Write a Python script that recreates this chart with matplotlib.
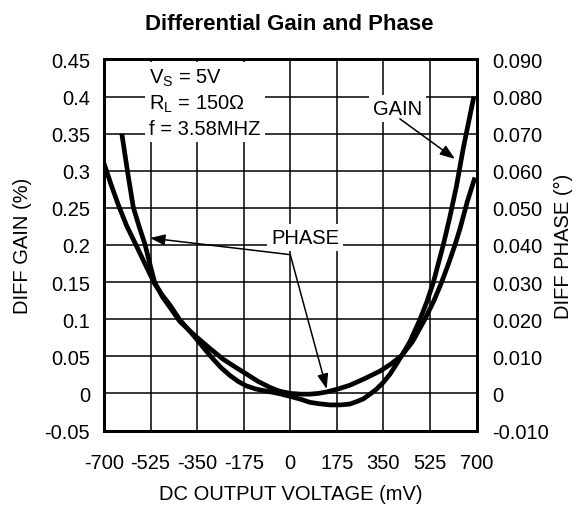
import matplotlib
matplotlib.use("Agg")
import matplotlib.pyplot as plt

plt.rcParams['font.family'] = ['Liberation Sans', 'DejaVu Sans']
plt.rcParams['mathtext.fontset'] = 'custom'
plt.rcParams['mathtext.rm'] = 'Liberation Sans'
plt.rcParams['mathtext.it'] = 'Liberation Sans'

# DC output voltage (mV) vs differential gain (%)
gain_mv = [-700, -672, -646, -615, -577, -545, -510, -480, -452, -415, -380, -352,
           -320, -289, -258, -226, -195, -164, -130, -89, -45, 0, 40, 74, 110,
           149, 190, 224, 250, 274, 300, 325, 350, 375, 400, 419, 450, 488, 515,
           538, 575, 600, 625, 650, 670, 690]
gain_pct = [0.310, 0.280, 0.254, 0.226, 0.198, 0.174, 0.148, 0.132, 0.119, 0.099,
            0.085, 0.073, 0.059, 0.046, 0.034, 0.024, 0.016, 0.010, 0.006, 0.003,
            0.000, -0.004, -0.008, -0.012, -0.014, -0.0155, -0.0155, -0.0143,
            -0.011, -0.0075, -0.001, 0.006, 0.015, 0.026, 0.040, 0.051, 0.070,
            0.100, 0.125, 0.150, 0.200, 0.238, 0.280, 0.330, 0.365, 0.400]

# DC output voltage (mV) vs differential phase (deg)
phase_mv = [-633, -612, -590, -568, -546, -528, -510, -480, -452, -415, -380, -352,
            -300, -252, -200, -164, -120, -76, -40, 0, 40, 74, 105, 137, 180, 224,
            280, 337, 380, 419, 460, 506, 540, 569, 595, 619, 638, 665, 694]
phase_deg = [0.0700, 0.0600, 0.0502, 0.0450, 0.0402, 0.0350, 0.0300, 0.0260, 0.0232,
             0.0194, 0.0170, 0.0152, 0.0120, 0.0092, 0.0068, 0.0052, 0.0032, 0.0016,
             0.0006, 0.0000, -0.0002, -0.0002, 0.0000, 0.0004, 0.0012, 0.0022,
             0.0040, 0.0060, 0.0080, 0.0102, 0.0140, 0.0200, 0.0250, 0.0300, 0.0350,
             0.0400, 0.0444, 0.0516, 0.0582]

x_ticks = [-700, -525, -350, -175, 0, 175, 350, 525, 700]
gain_ticks = [-0.05, 0, 0.05, 0.1, 0.15, 0.2, 0.25, 0.3, 0.35, 0.4, 0.45]
gain_labels = ['-0.05', '0', '0.05', '0.1', '0.15', '0.2', '0.25', '0.3', '0.35', '0.4', '0.45']
phase_ticks = [-0.01, 0, 0.01, 0.02, 0.03, 0.04, 0.05, 0.06, 0.07, 0.08, 0.09]
phase_labels = ['-0.010', '0', '0.010', '0.020', '0.030', '0.040', '0.050',
                '0.060', '0.070', '0.080', '0.090']

fs = 14.5
fig = plt.figure(figsize=(5.79, 5.10), dpi=100)
ax = fig.add_axes([0.1796, 0.1539, 0.6434, 0.7275])
ax2 = ax.twinx()

ax.set_xlim(-700, 700)
ax.set_ylim(-0.05, 0.45)
ax2.set_ylim(-0.01, 0.09)

ax.set_xticks(x_ticks)
ax.set_xticklabels([str(v) for v in x_ticks], fontsize=fs)
ax.set_yticks(gain_ticks)
ax.set_yticklabels(gain_labels, fontsize=fs)
ax2.set_yticks(phase_ticks)
ax2.set_yticklabels(phase_labels, fontsize=fs)
ax.tick_params(axis='x', length=0, pad=16)
ax.tick_params(axis='y', length=0, pad=10)
ax2.tick_params(axis='y', length=0, pad=11)

ax.grid(True, color='black', lw=1.1)
ax.set_axisbelow(True)
for a in (ax, ax2):
    for s in a.spines.values():
        s.set_linewidth(2.0)

ax.plot(gain_mv, gain_pct, color='black', lw=3.4, solid_joinstyle='round',
        solid_capstyle='butt', zorder=3)
ax2.plot(phase_mv, phase_deg, color='black', lw=3.4, solid_joinstyle='round',
         solid_capstyle='butt', zorder=3)

ax.set_xlabel('DC OUTPUT VOLTAGE (mV)', fontsize=fs, labelpad=9)
ax.set_ylabel('DIFF GAIN (%)', fontsize=fs, labelpad=9)
ax2.set_ylabel('DIFF PHASE (°)', fontsize=fs, labelpad=4)
fig.suptitle('Differential Gain and Phase', fontsize=16, fontweight='bold', x=0.5, y=0.972)

box = dict(boxstyle='square,pad=0.2', fc='white', ec='none')
ax.text(-530, 0.440, 'V$_\\mathregular{S}$ = 5V\nR$_\\mathregular{L}$ = 150Ω\nf = 3.58MHZ',
        fontsize=fs, ha='left', va='top', linespacing=1.3, bbox=box, zorder=5)
ax.text(403, 0.384, 'GAIN', fontsize=fs, ha='center', va='center', bbox=box, zorder=5)
ax.text(57, 0.2107, 'PHASE', fontsize=fs, ha='center', va='center', bbox=box, zorder=5)

arr = dict(arrowstyle='-|>,head_length=0.6,head_width=0.22', color='black', lw=1.1,
           mutation_scale=15, shrinkA=0, shrinkB=0)
ax.annotate('', xy=(619, 0.316), xytext=(412, 0.370), arrowprops=arr, zorder=6)
ax.annotate('', xy=(-527, 0.2094), xytext=(0, 0.187), arrowprops=arr, zorder=6)
ax.annotate('', xy=(137, 0.006), xytext=(0, 0.187), arrowprops=arr, zorder=6)

fig.savefig('out.png', dpi=100)
